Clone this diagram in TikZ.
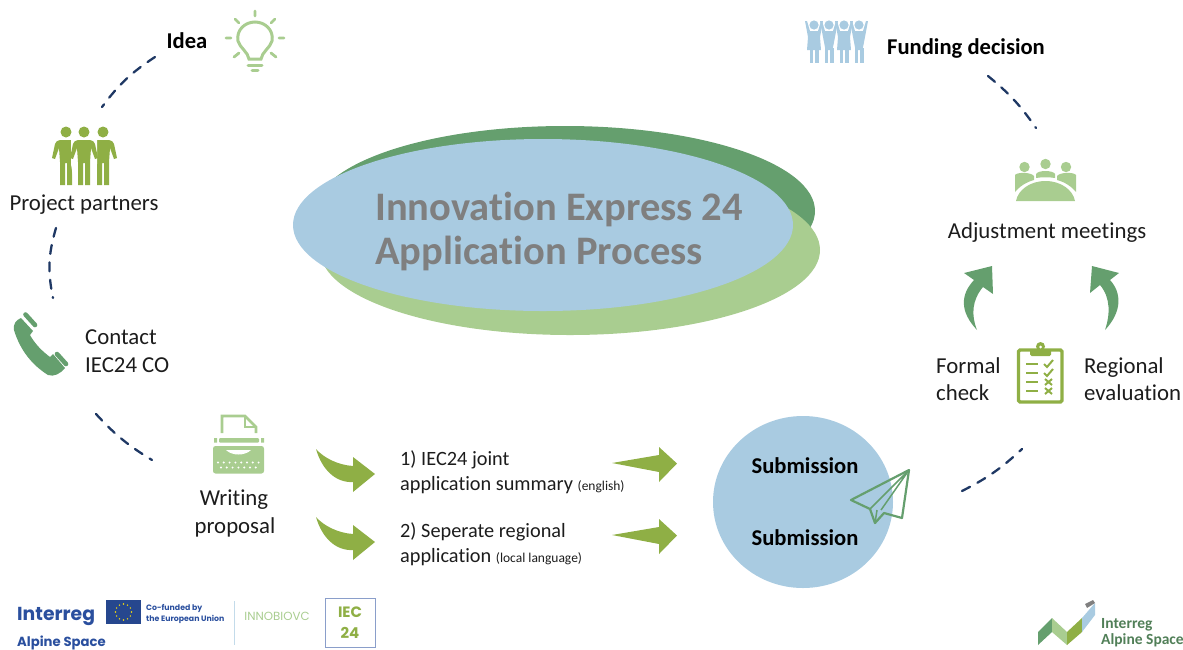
\documentclass[tikz,border=0pt]{standalone}
\usepackage{fontspec}
\setmainfont[Ligatures=NoCommon]{Carlito}
\newfontfamily\logofont{Poppins}
\usetikzlibrary{calc}
\definecolor{lgreen}{HTML}{A9CD90}
\definecolor{dgreen}{HTML}{659F6E}
\definecolor{olive}{HTML}{8FAF45}
\definecolor{lblue}{HTML}{A9CBE1}
\definecolor{navy}{HTML}{1F3864}
\definecolor{ink}{HTML}{1C1C1C}
\definecolor{titlegrey}{HTML}{7F7F7F}
\definecolor{logoblue}{HTML}{2A4F9E}
\newcommand{\fsz}[1]{\fontsize{#1}{#1}\selectfont}
\tikzset{
 lab/.style={inner sep=0pt,text=ink,font=\fsz{22.8}},
 labl/.style={lab,anchor=base west,align=left},
 blab/.style={inner sep=0pt,text=black,font=\fsz{22.6}\bfseries},
 conn/.style={draw=navy,line width=2.3pt,dash pattern=on 9pt off 8.5pt,line cap=round},
 logot/.style={inner sep=0pt,text=logoblue},
 sumt/.style={labl,font=\fsz{20.3}},
 titlet/.style={inner sep=0pt,anchor=base west,text=titlegrey,font=\fsz{40.5}\bfseries},
}
\newcommand{\greenarrow}[1]{%
 \fill[olive,shift={(0,#1)}] (316,449) .. controls (324,458) and (338,465) .. (353,466) -- (353,457) -- (375,474) -- (353,492) -- (353,482) .. controls (336,483) and (322,470) .. cycle;}
\newcommand{\straightarrow}[1]{%
 \fill[olive,shift={(0,#1)}] (612,463) -- (659,455) -- (659,447) -- (677,463.5) -- (659,482) -- (659,472) -- cycle;}
\newcommand{\partner}[1]{%
 \begin{scope}[shift={(#1,0)}]
 \fill[olive] (0,132) circle (5.5);
 \fill[olive] (-6,140) .. controls (-9,140) and (-10,142) .. (-11,144) -- (-14,158) -- (-11,159) -- (-7,148) -- (-6,162) -- (-6,185) -- (-1,185) -- (-1,163) -- (1,163) -- (1,185) -- (6,185) -- (6,162) -- (7,148) -- (11,159) -- (14,158) -- (11,144) .. controls (10,142) and (9,140) .. (6,140) -- cycle;
 \end{scope}}
\newcommand{\cheer}[2]{%
 \begin{scope}[shift={(#1,0)}]
 \fill[lblue] (0,25) circle (4.6);
 \fill[lblue] (-9,21) -- (-7,21) -- (-4,31) -- (4,31) -- (7,21) -- (9,21) -- (6,37) -- (#2,50) -- (-#2,50) -- (-6,37) -- cycle;
 \fill[lblue] (-4.5,48) rectangle (-1,62.5);
 \fill[lblue] (1,48) rectangle (4.5,62.5);
 \end{scope}}
\begin{document}
\begin{tikzpicture}[x=1pt,y=-1pt]
\useasboundingbox (0,0) rectangle (1183,649);
% central ellipses
\fill[dgreen] (565,211) ellipse [x radius=250,y radius=85];
\fill[lgreen] (570,250) ellipse [x radius=250,y radius=85];
\fill[lblue] (543,225) ellipse [x radius=250,y radius=86];
\node[titlet] (title1) at (375,220.5) {Innovation Express 24};
\node[titlet] (title2) at (375,264.5) {Application Process};
% labels
\node[blab] (idea) at (187,41) {Idea};
\node[blab] (funding) at (966,48) {Funding decision};
\node[lab] (partners) at (84,205) {Project partners};
\node[labl] (contact1) at (85,344.5) {Contact};
\node[labl] (contact2) at (85,372.5) {IEC24 CO};
\node[lab] (writing1) at (234,500) {Writing};
\node[lab] (writing2) at (235,527) {proposal};
\node[sumt] (sum1) at (400,465.5) {1) IEC24 joint};
\node[sumt] (sum2) at (400,490.5) {application summary {\fsz{13.5}(english)}};
\node[sumt] (reg1) at (400,537.5) {2) Seperate regional};
\node[sumt] (reg2) at (400,562.5) {application {\fsz{13.5}(local language)}};
\node[lab] (adjust) at (1047,233) {Adjustment meetings};
\node[labl] (formal1) at (936,373.5) {Formal};
\node[labl] (formal2) at (936,400.5) {check};
\node[labl] (regional1) at (1084,373.5) {Regional};
\node[labl] (regional2) at (1084,400.5) {evaluation};
% submission
\fill[lblue] (803,502) ellipse [x radius=90,y radius=86];
\node[blab] (sub1) at (805,465.5) {Submission};
\node[blab] (sub2) at (805,538) {Submission};
% plane
\draw[dgreen,line width=2.2pt,line join=round] (909,470) -- (851,500) -- (870,509) -- (875,523) -- (884,513) -- (902,518) -- cycle;
\draw[dgreen,line width=1.5pt] (909,470) -- (870,509) (909,470) -- (881,510) (875,523) -- (877,510);
% dashed connectors
\coordinate (d1a) at (155,57); \coordinate (d1b) at (102,107);
\coordinate (d2a) at (56,228); \coordinate (d2b) at (53,298);
\coordinate (d3a) at (96,414); \coordinate (d3b) at (152,460);
\coordinate (d4a) at (962,491); \coordinate (d4b) at (1022,449);
\coordinate (d5a) at (988,76); \coordinate (d5b) at (1036,128);
\draw[conn] (d1a) to[bend right=10] (d1b);
\draw[conn] (d2a) to[bend right=14] (d2b);
\draw[conn] (d3a) to[bend right=8] (d3b);
\draw[conn] (d4a) to[bend right=8] (d4b);
\draw[conn] (d5a) to[bend left=8] (d5b);
% bulb
\draw[lgreen,line width=3pt] (249,59) .. controls (248,52) and (240,48) .. (238,41) .. controls (236,30) and (245,22) .. (255,22) .. controls (265,22) and (274,30) .. (272,41) .. controls (270,48) and (262,52) .. (261,59) -- cycle;
\draw[lgreen,line width=3pt,line cap=round] (248,65) -- (262,65);
\draw[lgreen,line width=3pt,line cap=round] (252,70.5) -- (258,70.5);
\draw[lgreen,line width=2.8pt,line cap=round] (255,11) -- (255,16) (235,19) -- (239,23) (275,19) -- (271,23) (226,38) -- (231,38) (279,38) -- (284,38) (234,57) -- (239,53) (276,57) -- (271,53);
% partners
\partner{66}\partner{103}
\fill[white] (71,136) -- (97,136) -- (97,164) -- (93,189) -- (75,189) -- (71,164) -- cycle;
\partner{84}
% phone
\fill[dgreen] (21,318) -- (33,331) -- (30,335) .. controls (35,344) and (42,351) .. (50,357) -- (53,354) -- (65,368) .. controls (60,374) and (54,377) .. (48,375) .. controls (32,365) and (20,350) .. (14,330) .. controls (13,324) and (16,320) .. cycle;
\draw[dgreen,line width=4.6pt,line cap=round] (25.5,314.5) -- (35,325) (57,354) -- (66,364);
% typewriter
\draw[lgreen,line width=2.6pt] (222,433) -- (222,416) -- (245,416) -- (256,427) -- (256,433);
\draw[lgreen,line width=2pt] (245,416) -- (245,427) -- (256,427);
\fill[lgreen,rounded corners=1pt] (219,438) rectangle (259,442.5);
\fill[lgreen] (214,438) rectangle (217,442.5) (261,438) rectangle (264,442.5);
\fill[lgreen,rounded corners=2.5pt] (213,446) rectangle (264,473.5);
\fill[white] (226,450) .. controls (232,456) and (245,456) .. (251,450) -- cycle;
\foreach \i in {0,...,7} {\fill[white] (218+\i*5.8,462.5) circle (1.1);}
\foreach \i in {0,...,6} {\fill[white] (221+\i*5.8,467.5) circle (1.1);}
% green arrows
\greenarrow{0}\greenarrow{68}
\straightarrow{0}\straightarrow{72}
% funding people
\cheer{814}{7}\cheer{829}{3.5}\cheer{844}{7}\cheer{859}{3.5}
% meeting
\fill[lgreen] (1016,201) .. controls (1018,190) and (1030,181) .. (1045.5,181) .. controls (1061,181) and (1073,190) .. (1075,201) -- cycle;
\fill[lgreen] (1024.5,167) circle (5.2) (1045.5,164) circle (5.2) (1066,167) circle (5.2);
\fill[lgreen] (1015,175) .. controls (1017,172) and (1031,172) .. (1034,176) -- (1034,180) .. controls (1026,182) and (1019,187) .. (1015,192) -- cycle;
\fill[lgreen] (1076,175) .. controls (1074,172) and (1060,172) .. (1057,176) -- (1057,180) .. controls (1065,182) and (1072,187) .. (1076,192) -- cycle;
\fill[lgreen] (1036,178) -- (1036,174) .. controls (1038,170) and (1053,170) .. (1055,174) -- (1055,178) .. controls (1049,177) and (1042,177) .. cycle;
% green up arrows
\fill[dgreen] (992,266) -- (964,273) -- (974,280) .. controls (960,295) and (960,312) .. (977,330) .. controls (971,315) and (972,300) .. (983,287) -- (993,294) -- cycle;
\fill[dgreen] (1092,266) -- (1119,273) -- (1110,280) .. controls (1122,293) and (1122,312) .. (1105,330) .. controls (1110,315) and (1111,298) .. (1100,285) -- (1090,293) -- cycle;
% clipboard
\draw[olive,line width=3.4pt,rounded corners=1.5pt] (1018.5,350) rectangle (1062,402);
\fill[olive,rounded corners=1.5pt] (1030,349) rectangle (1051,356);
\fill[olive] (1040.5,346.5) circle (4.5);
\fill[white] (1040.5,347) circle (1.5);
\foreach \y in {364,373,382,391} {\draw[olive,line width=2.2pt] (1026,\y) -- (1038,\y);}
\draw[olive,line width=2pt] (1044,364) -- (1047,367) -- (1053,360);
\draw[olive,line width=2pt] (1044,373) -- (1047,376) -- (1053,369);
\draw[olive,line width=2pt] (1045,379) -- (1052,385) (1052,379) -- (1045,385);
\draw[olive,line width=2pt] (1045,388) -- (1052,394) (1052,388) -- (1045,394);
% logos bottom left
\node[logot,font=\logofont\fsz{18.8}\bfseries,anchor=base west] (interreg) at (17,620) {Interreg};
\node[logot,font=\logofont\fsz{13.2}\bfseries,anchor=base west] (alpine) at (17,646) {Alpine Space};
\fill[logoblue!90!black] (106,600) rectangle (141,624);
\foreach \a in {0,30,...,330} {\fill[yellow!85!orange] ($(123.5,612)+(\a:8)$) circle (0.8);}
\node[logot,font=\logofont\fsz{7.8}\bfseries,anchor=base west] (eu1) at (146,610) {Co-funded by};
\node[logot,font=\logofont\fsz{7.8}\bfseries,anchor=base west] (eu2) at (146,621) {the European Union};
\draw[lblue!70,line width=1pt] (234,601) -- (234,645);
\node[inner sep=0pt,text=lgreen,font=\logofont\fsz{11.8}] (innob) at (277,616) {INNOBIOVC};
\draw[logoblue!55,line width=1pt] (325,598.5) rectangle (375,647.5);
\node[inner sep=0pt,text=olive,font=\logofont\fsz{15}\bfseries] (iec) at (350,612) {IEC};
\node[inner sep=0pt,text=olive,font=\logofont\fsz{15}\bfseries] (twentyfour) at (350,633) {24};
% logo bottom right
\fill[dgreen] (1038,632) -- (1052,618) -- (1052,632) -- (1038,645) -- cycle;
\fill[lgreen] (1052,618) -- (1067,632) -- (1067,645) -- (1052,632) -- cycle;
\fill[olive] (1067,632) -- (1082,618) -- (1082,632) -- (1067,645) -- cycle;
\fill[lblue] (1082,618) -- (1095,603) -- (1095,615) -- (1082,632) -- cycle;
\fill[gray] (1085,604) -- (1093,600) -- (1095,603) -- (1087,608) -- cycle;
\node[inner sep=0pt,anchor=base west,text=dgreen!80!black,font=\fsz{15.5}\bfseries] (ia1) at (1101,628) {Interreg};
\node[inner sep=0pt,anchor=base west,text=dgreen!80!black,font=\fsz{15.5}\bfseries] (ia2) at (1101,644) {Alpine Space};
\end{tikzpicture}
\end{document}
